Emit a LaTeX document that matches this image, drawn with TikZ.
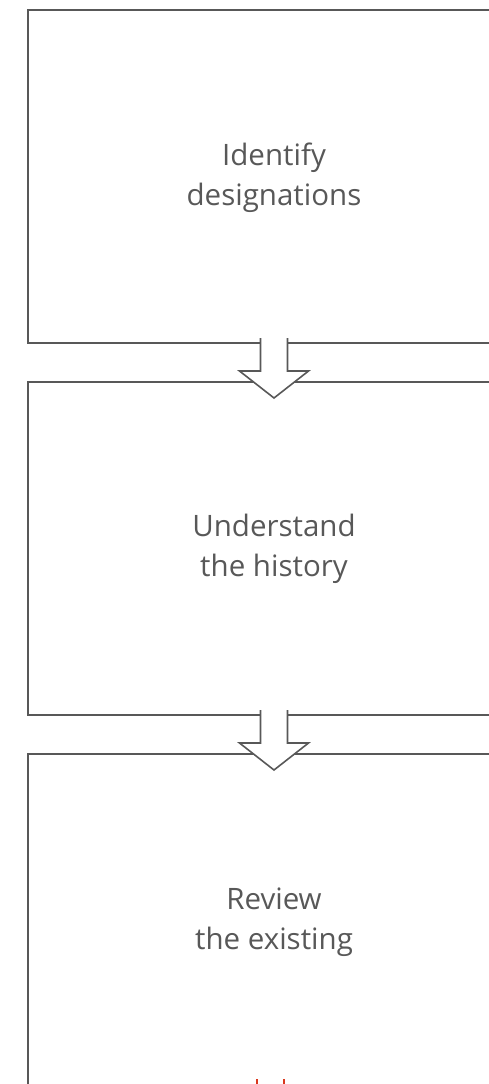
\documentclass[tikz,border=0pt]{standalone}
\usepackage{fontspec}
\setmainfont{Open Sans}
\usetikzlibrary{calc}
\definecolor{boxgray}{HTML}{585858}
\definecolor{markred}{HTML}{D9381E}
\begin{document}
\begin{tikzpicture}[x=1pt, y=-1pt,
  stage/.style={draw=boxgray, line width=2pt, minimum width=492pt, minimum height=333pt},
  stagetext/.style={align=center, text=boxgray, inner sep=0pt, font=\fontsize{29.5}{40}\selectfont},
  downarrow/.style={draw=boxgray, line width=1.6pt, fill=white, line join=miter}]
\useasboundingbox (0,0) rectangle (488,1084);
% stages
\node[stage] (identify) at (274,176.5) {};
\node[stage] (understand) at (274,548.5) {};
\node[stage] (review) at (274,920.5) {};
\node[stagetext] (identify-text) at ($(identify)+(0,1)$) {Identify\\designations};
\node[stagetext] (understand-text) at ($(understand)+(0,0)$) {Understand\\the history};
\node[stagetext] (review-text) at ($(review)+(0,2)$) {Review\\the existing};
% arrows between stages
\foreach \a/\b in {identify/understand, understand/review}{
  \filldraw[downarrow] ($(\a.south)+(-13.5,-6)$) -- ++(0,33) -- ++(-21,0)
    -- ($(\b.north)+(0,17)$) -- ($(\a.south)+(34.5,27)$) -- ++(-21,0) -- ++(0,-33);
}
% cut-off red text at the bottom
\fill[markred] (256,1079) rectangle (258,1084);
\fill[markred] (283,1079) rectangle (285,1084);
\end{tikzpicture}
\end{document}
